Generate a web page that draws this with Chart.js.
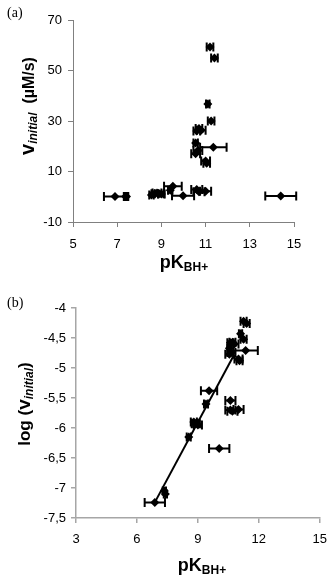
<!DOCTYPE html>
<html><head><meta charset="utf-8">
<script src="https://cdn.jsdelivr.net/npm/chart.js@4.4.0/dist/chart.umd.min.js"></script>
<style>
html,body{margin:0;padding:0;background:#fff;width:336px;height:577px;overflow:hidden;position:relative;font-family:"Liberation Sans",Arial,sans-serif}
canvas{position:absolute;left:0}
#ca{top:0}
#cb{top:290px}
.lbl{position:absolute;font-family:"Liberation Serif","Times New Roman",serif;font-size:14px;color:#000}
.t{position:absolute;font-weight:bold;color:#000;white-space:nowrap;transform:translate(-50%,-50%)}
.ty{transform:translate(-50%,-50%) rotate(-90deg)}
sub{font-size:11px;vertical-align:-3px}
</style></head><body>
<canvas id="ca" width="336" height="290"></canvas>
<canvas id="cb" width="336" height="287"></canvas>
<div class="lbl" style="left:7px;top:5px">(a)</div>
<div class="lbl" style="left:7px;top:295px">(b)</div>
<div class="t ty" style="left:28px;top:106px;font-size:16px"><span style="font-size:20px">v</span><sub style="font-style:italic;font-size:12px">initial</sub>&nbsp; (µM/s)</div>
<div class="t" style="left:184px;top:263px;font-size:18px">pK<sub style="font-size:12px">BH+</sub></div>
<div class="t ty" style="left:24px;top:404px;font-size:17px">log (<span style="font-size:19px">v</span><sub style="font-style:italic;font-size:12px">initial</sub>)</div>
<div class="t" style="left:202px;top:566px;font-size:18px">pK<sub style="font-size:12px">BH+</sub></div>
<script>
// Panel (a): pK, initial rate (µM/s), horizontal error on pK
const aPK  = [11.2, 11.4, 11.1, 11.25, 10.6, 10.7, 10.8, 10.55, 11.35, 10.65, 10.55, 11.0, 11.05,
              6.9, 7.38, 7.42, 8.55, 8.7, 8.8, 8.9, 9.0, 9.4, 9.52, 9.98, 10.6, 10.7, 11.0, 14.4];
const aV   = [59.3, 55.0, 36.7, 30.0, 26.0, 27.0, 26.3, 21.3, 19.6, 18.3, 17.0, 14.2, 13.3,
              0.05, 0.08, 0.1, 0.7, 1.2, 1.5, 1.2, 1.1, 2.6, 4.2, 0.4, 2.9, 2.0, 2.2, 0.3];
const aErr = [0.15, 0.15, 0.08, 0.15, 0.15, 0.15, 0.2, 0.1, 0.6, 0.2, 0.2, 0.2, 0.15,
              0.5, 0.08, 0.08, 0.1, 0.15, 0.2, 0.2, 0.15, 0.1, 0.4, 0.5, 0.25, 0.25, 0.25, 0.7];
// Panel (b): pK, log(v initial), horizontal error on pK
const bPK  = [11.25, 11.4, 11.1, 11.25, 10.6, 10.7, 10.8, 10.55, 11.35, 10.65, 10.55, 11.0, 11.05,
              6.88, 7.35, 7.4, 8.55, 8.8, 8.9, 9.0, 8.85, 9.4, 9.55, 10.05, 10.6, 10.6, 10.7, 11.0];
const bLog = [-4.22, -4.26, -4.43, -4.52, -4.58, -4.57, -4.6, -4.67, -4.71, -4.74, -4.77, -4.85, -4.88,
              -7.24, -7.05, -7.1, -6.15, -5.9, -5.93, -5.95, -5.92, -5.6, -5.38, -6.34, -5.54, -5.7, -5.72, -5.69];
const bErr = [0.15, 0.15, 0.08, 0.15, 0.15, 0.15, 0.2, 0.1, 0.6, 0.2, 0.2, 0.2, 0.15,
              0.5, 0.08, 0.08, 0.1, 0.15, 0.2, 0.2, 0.15, 0.1, 0.4, 0.5, 0.25, 0.25, 0.25, 0.25];
// Fitted line in panel (b)
const fitX = [6.88, 10.75];
const fitY = [-7.24, -4.8];
// Tick values and labels
const aXTicks = [5, 7, 9, 11, 13, 15];
const aYTicks = [-10, 10, 30, 50, 70];
const bXTicks = [3, 6, 9, 12, 15];
const bYTicks = [-7.5, -7, -6.5, -6, -5.5, -5, -4.5, -4];
const bYLabels = ['-7,5', '-7', '-6,5', '-6', '-5,5', '-5', '-4,5', '-4'];

const errPlugin = {
  id: 'errbars',
  afterDatasetsDraw(chart) {
    const ctx = chart.ctx, xs = chart.scales.x, ys = chart.scales.y;
    chart.data.datasets.forEach(ds => {
      if (!ds.errX) return;
      ctx.save();
      ctx.strokeStyle = '#000';
      ctx.lineWidth = 2;
      ds.data.forEach((p, i) => {
        const e = ds.errX[i];
        const x0 = xs.getPixelForValue(p.x - e), x1 = xs.getPixelForValue(p.x + e);
        const y = ys.getPixelForValue(p.y);
        ctx.beginPath();
        ctx.moveTo(x0, y); ctx.lineTo(x1, y);
        ctx.moveTo(x0, y - 4.5); ctx.lineTo(x0, y + 4.5);
        ctx.moveTo(x1, y - 4.5); ctx.lineTo(x1, y + 4.5);
        ctx.stroke();
      });
      ctx.restore();
    });
  }
};

function pts(xa, ya) { return xa.map((x, i) => ({x: x, y: ya[i]})); }
const tickFont = {family: '"Liberation Sans", Arial, sans-serif', size: 13};

function axis(min, max, vals, labels, fitFn, axisColor, bw, pad) {
  return {
    type: 'linear', min: min, max: max,
    afterBuildTicks: s => { s.ticks = vals.map(v => ({value: v})); },
    afterFit: fitFn,
    grid: {drawOnChartArea: false, drawTicks: true, tickLength: 5, color: axisColor, lineWidth: bw},
    border: {color: axisColor, width: bw},
    ticks: {color: '#000', font: tickFont, padding: pad, autoSkip: false, maxRotation: 0,
      callback: (v) => { const k = vals.indexOf(v); return labels ? labels[k] : String(v); }}
  };
}

Chart.defaults.animation = false;

new Chart(document.getElementById('ca'), {
  type: 'scatter',
  data: {datasets: [{
    data: pts(aPK, aV), errX: aErr,
    pointStyle: 'rectRot', pointRadius: 4.5, backgroundColor: '#000', borderColor: '#000', borderWidth: 0
  }]},
  options: {
    responsive: false, maintainAspectRatio: false,
    layout: {padding: {left: 0, top: 20, right: 42, bottom: 0}},
    plugins: {legend: {display: false}, tooltip: {enabled: false}},
    scales: {
      x: axis(5, 15, aXTicks, null, s => { s.height = 68; }, '#808080', 1, 10),
      y: axis(-10, 70, aYTicks, null, s => { s.width = 73; }, '#808080', 1, 6)
    }
  },
  plugins: [errPlugin]
});

new Chart(document.getElementById('cb'), {
  type: 'scatter',
  data: {datasets: [
    {type: 'line', data: pts(fitX, fitY), borderColor: '#000', borderWidth: 2, pointRadius: 0, fill: false},
    {data: pts(bPK, bLog), errX: bErr,
     pointStyle: 'rectRot', pointRadius: 4.5, backgroundColor: '#000', borderColor: '#000', borderWidth: 0}
  ]},
  options: {
    responsive: false, maintainAspectRatio: false,
    layout: {padding: {left: 0, top: 18, right: 9, bottom: 0}},
    plugins: {legend: {display: false}, tooltip: {enabled: false}},
    scales: {
      x: axis(3, 15, bXTicks, null, s => { s.height = 59; }, '#a6a6a6', 1.5, 9),
      y: axis(-7.5, -4, bYTicks, bYLabels, s => { s.width = 76; }, '#a6a6a6', 1.5, 5)
    }
  },
  plugins: [errPlugin]
});
</script>
</body></html>
